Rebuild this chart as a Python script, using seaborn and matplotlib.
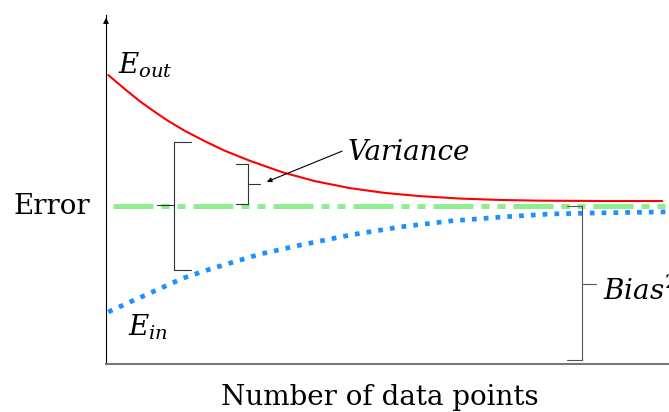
import matplotlib
matplotlib.use("Agg")
import matplotlib.pyplot as plt
import seaborn as sns

# ==========================================
# Data
# ==========================================
# x: number of data points (0..100), y: error (0..1)
e_out_x = [0.4, 3.4, 6.0, 8.7, 10.8, 14.0, 17.6, 21.1, 25.6, 31.4, 37.1, 43.3,
           49.6, 55.8, 62.9, 70.0, 77.1, 87.7, 98.8]
e_out_y = [0.828, 0.787, 0.753, 0.722, 0.699, 0.668, 0.638, 0.611, 0.582, 0.549,
           0.524, 0.504, 0.490, 0.481, 0.474, 0.470, 0.468, 0.467, 0.467]

e_in_x = [0.4, 4.3, 7.8, 13.7, 18.5, 22.0, 27.4, 34.6, 43.5, 52.4, 61.3, 70.2,
          79.0, 87.9, 100.0]
e_in_y = [0.149, 0.178, 0.203, 0.246, 0.272, 0.289, 0.315, 0.341, 0.370, 0.393,
          0.410, 0.421, 0.430, 0.433, 0.436]

bias_x = [1.2, 100.0]
bias_level = 0.453

# annotation geometry (data units)
big_bracket = dict(x=12.1, y0=0.269, y1=0.636, tick=3.0, mid=0.456)
var_bracket = dict(x=25.2, y0=0.458, y1=0.573, tick=2.1, mid=0.516)
bias_bracket = dict(x=84.5, y0=0.011, y1=0.453, tick=2.6, mid=0.229)

W, H = 669, 412
sns.set_style("white")
plt.rcParams["font.family"] = ["DejaVu Serif"]
plt.rcParams["mathtext.fontset"] = "dejavuserif"
plt.rcParams["text.color"] = "black"

fig = plt.figure(figsize=(W / 100, H / 100), dpi=100)
ax = fig.add_axes([106 / W, 48 / H, 563 / W, 349 / H])

sns.lineplot(x=e_out_x, y=e_out_y, ax=ax, color="red", lw=1.5)
sns.lineplot(x=bias_x, y=[bias_level, bias_level], ax=ax, color="#90ee90",
             lw=3.6, linestyle=(0, (8, 1.6, 1.6, 1.6, 1.6, 1.6)))
sns.lineplot(x=e_in_x, y=e_in_y, ax=ax, color="#1e90ff", lw=3.4,
             linestyle=(0, (1, 1.5)))

ax.set_xlim(0, 100)
ax.set_ylim(0, 1)
ax.set_xticks([])
ax.set_yticks([])
for s in ["top", "right"]:
    ax.spines[s].set_visible(False)
ax.spines["left"].set_color("black")
ax.spines["left"].set_linewidth(0.8)
ax.spines["bottom"].set_color("#777777")
ax.spines["bottom"].set_linewidth(1.5)

# arrow head on the y axis
ax.annotate("", xy=(0, 1.0), xytext=(0, 0.97),
            arrowprops=dict(arrowstyle="-|>", color="black", lw=0.8,
                            mutation_scale=8),
            annotation_clip=False)


def bracket(b, side, color="#333333"):
    x, y0, y1, t, m = b["x"], b["y0"], b["y1"], b["tick"], b["mid"]
    d = 1 if side == "right" else -1
    kw = dict(color=color, lw=0.8, clip_on=False)
    ax.plot([x, x], [y0, y1], **kw)
    ax.plot([x, x + d * t], [y0, y0], **kw)
    ax.plot([x, x + d * t], [y1, y1], **kw)
    ax.plot([x, x - d * t], [m, m], **kw)


bracket(big_bracket, "right")
bracket(var_bracket, "left")
bracket(bias_bracket, "left", color="#555555")

ax.annotate("", xy=(28.1, 0.519), xytext=(42.4, 0.613),
            arrowprops=dict(arrowstyle="-|>", color="black", lw=0.8,
                            mutation_scale=7))

fs = 20
ax.text(2.1, 0.831, r"$E_{out}$", fontsize=fs, va="baseline")
ax.text(3.9, 0.083, r"$E_{in}$", fontsize=fs, va="baseline")
ax.text(43.0, 0.585, "Variance", fontsize=fs, style="italic", va="baseline")
ax.text(88.3, 0.183, r"$Bias^2$", fontsize=fs, va="baseline", clip_on=False)

fig.text(90 / W, 0.5, "Error", fontsize=fs, ha="right", va="center")
fig.text(380 / W, 7 / H, "Number of data points", fontsize=fs,
         ha="center", va="baseline")

fig.savefig("out.png", dpi=100)
